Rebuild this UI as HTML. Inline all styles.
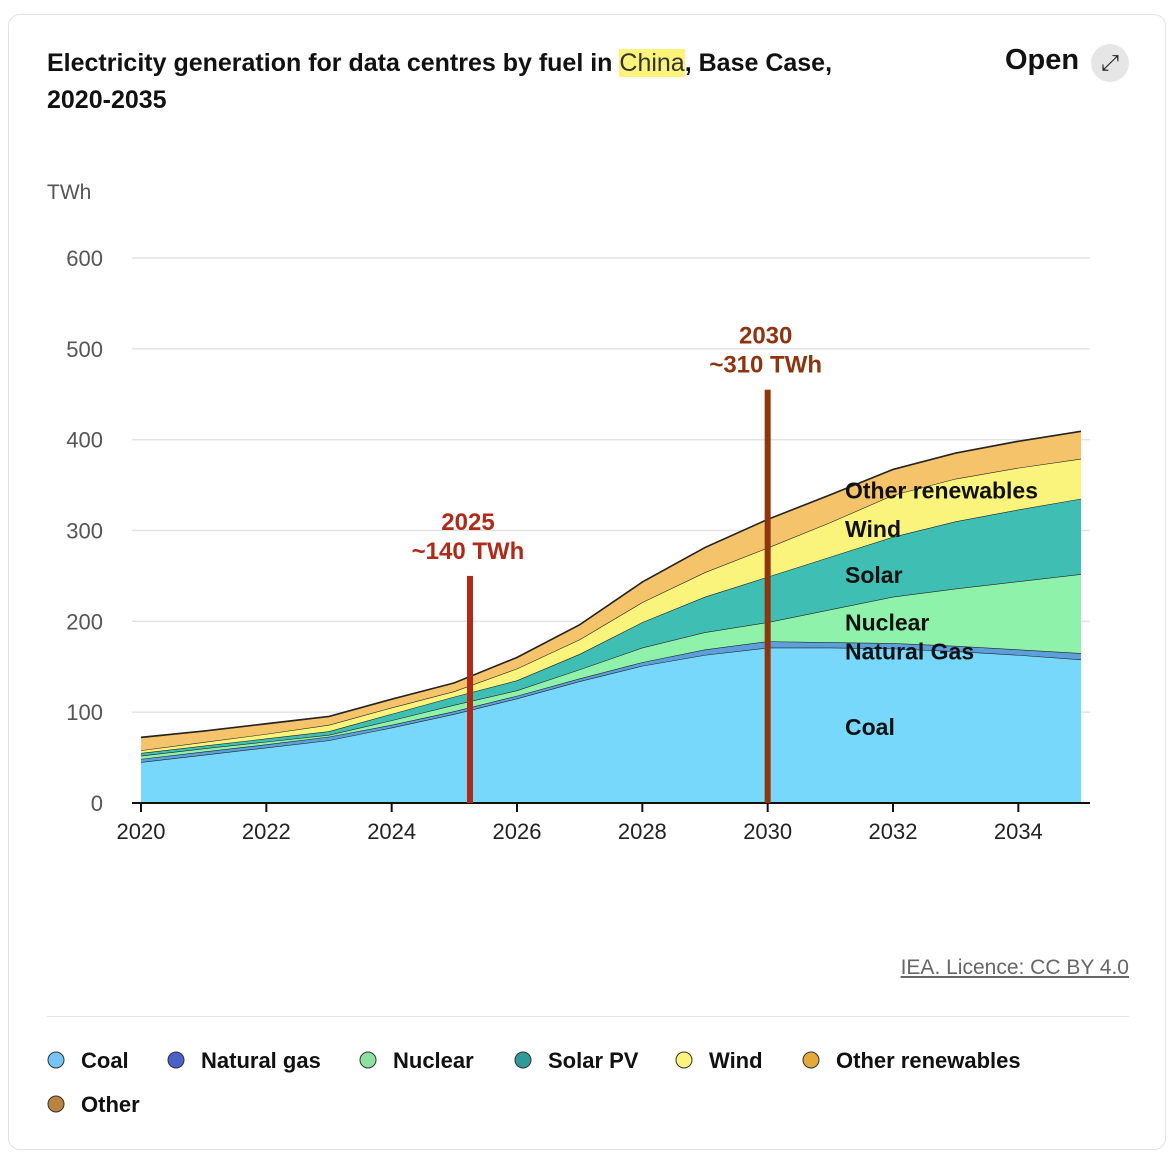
<!DOCTYPE html>
<html><head><meta charset="utf-8"><style>
body{margin:0;background:#fff;font-family:"Liberation Sans",sans-serif;}
#card{position:absolute;left:8px;top:14px;width:1158px;height:1136px;border:1px solid #e2e2e2;border-radius:12px;box-sizing:border-box;}
.t{position:absolute;white-space:nowrap;}
</style></head><body>
<div id="card"></div>
<div class="t" style="left:47px;top:45px;font-size:25px;font-weight:bold;color:#111;line-height:37px;">Electricity generation for data centres by fuel in <span style="background:#fbf37a;font-weight:normal;color:#333">China</span>, Base Case,<br>2020-2035</div>
<div class="t" style="left:1005px;top:44px;font-size:29px;font-weight:bold;color:#111;">Open</div>
<div class="t" style="left:1091px;top:44px;width:38px;height:38px;border-radius:50%;background:#e6e6e6;text-align:center;line-height:38px;font-size:22px;color:#222;">⤢</div>
<svg id="chart" width="1175" height="1158" style="position:absolute;left:0;top:0"></svg>
<div class="t" style="right:46px;top:956px;font-size:21px;color:#666;text-decoration:underline;">IEA. Licence: CC BY 4.0</div>
<div style="position:absolute;left:47px;top:1016px;width:1082px;height:1px;background:#e6e6e6"></div>
<script>
const years=[2020,2021,2022,2023,2024,2025,2026,2027,2028,2029,2030,2031,2032,2033,2034,2035];
const coal=[45,53,61,69,83,98,115,134,151,163,171,171,170,167,163,158];
const gas=[3.5,3.5,3.5,4,3,3,3,3,4,6,7,6,6,6,6,7];
const nuclear=[3.5,3.5,3,2,5,7,6,10,16,19,21,36,51,63,75,87];
const solar=[3,3,3.5,4,7,9,11,17,28,39,50,58,66,74,79,83];
const wind=[3,4,5,7,7,6,13,16,22,27,32,38,46,47,46,44];
const otherRen=[14,12,11,9,9,9,12,16,22,27,31,30,28,28,29,30];
const other=[0.5,0.5,0.5,0.5,0.5,0.5,0.5,0.5,0.5,0.5,0.5,0.5,0.5,0.5,0.5,0.5];
const yTicks=[0,100,200,300,400,500,600];
const xTicks=[2020,2022,2024,2026,2028,2030,2032,2034];
const annotYears=[2025.25,2030];
const annotTop=[250,455];
const annotLabels=[["2025","~140 TWh"],["2030","~310 TWh"]];
const inLabels=["Coal","Natural Gas","Nuclear","Solar","Wind","Other renewables"];
const inLabelVals=[85,168,200,252,303,345];

const X=y=>141+(y-2020)*(1081-141)/15;
const Y=v=>803-v*(803-258)/600;
const svg=document.getElementById('chart');
const NS='http://www.w3.org/2000/svg';
function mk(t,a){const e=document.createElementNS(NS,t);for(const k in a)e.setAttribute(k,a[k]);svg.appendChild(e);return e;}
let t=mk('text',{x:47,y:199,'font-size':21,fill:'#555','font-family':'Liberation Sans'});t.textContent='TWh';


yTicks.forEach(v=>{
 if(v>0){const l=mk('line',{x1:132,x2:1090,y1:Y(v),y2:Y(v),stroke:'#e3e3e3','stroke-width':1.5});
 
 }
 const tx=mk('text',{x:103,y:Y(v)+8,'text-anchor':'end','font-size':22,fill:'#555'});tx.textContent=v;
 
 
});
const series=[["coal",coal,"#77d8fb"],["natural-gas",gas,"#5b9fdc"],["nuclear",nuclear,"#8ff2aa"],["solar-pv",solar,"#3fbfb3"],["wind",wind,"#fbf47c"],["other-renewables",otherRen,"#f5c36a"],["other",other,"#b8843f"]];
let base=years.map(()=>0);
series.forEach(s=>{
 const top=base.map((b,i)=>b+s[1][i]);
 let d='M'+years.map((y,i)=>X(y)+','+Y(top[i])).join('L');
 d+='L'+years.slice().reverse().map((y,j)=>X(y)+','+Y(base[years.length-1-j])).join('L')+'Z';
 const p=mk('path',{d:d,fill:s[2],stroke:'none'});
 
 
 const ln=mk('polyline',{points:years.map((y,i)=>X(y)+','+Y(top[i])).join(' '),fill:'none',stroke:'#222','stroke-width':1.2});
 
 
 base=top;
});
const ax=mk('line',{x1:132,x2:1090,y1:803,y2:803,stroke:'#111','stroke-width':2});


xTicks.forEach(y=>{
 const tk=mk('line',{x1:X(y),x2:X(y),y1:803,y2:812,stroke:'#111','stroke-width':2});
 
 
 const tx=mk('text',{x:X(y),y:839,'text-anchor':'middle','font-size':22,fill:'#222'});tx.textContent=y;
 
 
});
const acol=['#b02a1a','#8e3510'];
annotYears.forEach((y,i)=>{
 const r=mk('rect',{x:X(y)-3,y:Y(annotTop[i]),width:6,height:803-Y(annotTop[i]),fill:acol[i]});
 
 
 annotLabels[i].forEach((s,j)=>{
  const tx=mk('text',{x:X(y)-2,y:Y(annotTop[i])-46+j*29,'text-anchor':'middle','font-size':24,'font-weight':'bold',fill:acol[i]});tx.textContent=s;
  
  
 });
});
inLabels.forEach((s,i)=>{
 const tx=mk('text',{x:845,y:Y(inLabelVals[i])+9,'font-size':23,'font-weight':'bold',fill:'#111'});tx.textContent=s;
 
 
});
const leg=[["Coal","#77c4f8",56,1060],["Natural gas","#4a62c9",176,1060],["Nuclear","#8fe0a0",368,1060],["Solar PV","#2e9a9a",523,1060],["Wind","#fbf47c",684,1060],["Other renewables","#e3a93a",811,1060],["Other","#b8843f",56,1104]];
leg.forEach(l=>{
 const c=mk('circle',{cx:l[2],cy:l[3],r:8,fill:l[1],stroke:'#333','stroke-width':1});
 
 
 const tx=mk('text',{x:l[2]+25,y:l[3]+8,'font-size':22,fill:'#111','font-weight':'bold'});tx.textContent=l[0];
 
 
});
</script>
</body></html>
